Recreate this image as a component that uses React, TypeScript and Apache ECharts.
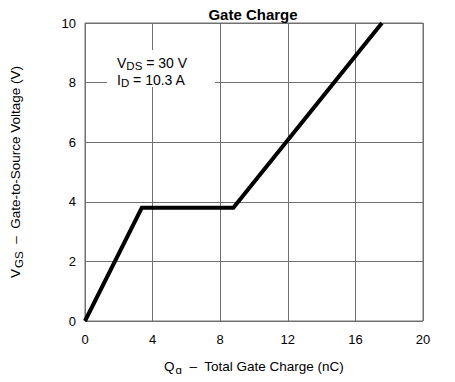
import React, { useEffect, useRef } from "react";
import * as echarts from "echarts";

const chargeNC = [0, 3.36, 8.78, 17.57];
const gateVolts = [0, 3.8, 3.8, 10];
const xTicks = [0, 4, 8, 12, 16, 20];
const yTicks = [0, 2, 4, 6, 8, 10];
const titleText = "Gate Charge";
const noteLines = ["{n|V}{s|DS}{n| = 30 V}", "{n|I}{s|D}{n| = 10.3 A}"];

const FONT = "Liberation Sans, Arial, sans-serif";

export default function App() {
  const ref = useRef<HTMLDivElement>(null);
  useEffect(() => {
    if (!ref.current) return;
    const chart = echarts.init(ref.current, undefined, { renderer: "svg" });
    const noteRich = {
      n: { fontSize: 14, fontFamily: FONT, color: "#000" },
      s: { fontSize: 11.5, fontFamily: FONT, color: "#000", padding: [7, 0, 0, 0] },
    };
    const nameRich = {
      n: { fontSize: 13.5, fontFamily: FONT, color: "#000" },
      s: { fontSize: 11.5, fontFamily: FONT, color: "#000", padding: [8, 0, 0, 1] },
    };
    chart.setOption({
      animation: false,
      backgroundColor: "#fff",
      grid: { left: 82, right: 32, top: 23, bottom: 61, show: true, borderColor: "#707070", borderWidth: 1 },
      xAxis: {
        type: "value",
        min: xTicks[0],
        max: xTicks[xTicks.length - 1],
        interval: xTicks[1] - xTicks[0],
        name: "{n|Q}{s|g}{n|  –  Total Gate Charge (nC)}",
        nameLocation: "middle",
        nameGap: 35,
        nameTextStyle: { rich: nameRich },
        axisLine: { show: false },
        axisTick: { show: false },
        axisLabel: { fontSize: 13, fontFamily: FONT, color: "#000", margin: 12 },
        splitLine: { show: true, lineStyle: { color: "#707070", width: 1 } },
      },
      yAxis: {
        type: "value",
        min: yTicks[0],
        max: yTicks[yTicks.length - 1],
        interval: yTicks[1] - yTicks[0],
        name: "{n|V}{s|GS}{n|  –  Gate-to-Source Voltage (V)}",
        nameLocation: "middle",
        nameRotate: 90,
        nameGap: 60,
        nameTextStyle: { rich: nameRich },
        axisLine: { show: false },
        axisTick: { show: false },
        axisLabel: { fontSize: 13, fontFamily: FONT, color: "#000", margin: 9 },
        splitLine: { show: true, lineStyle: { color: "#707070", width: 1 } },
      },
      graphic: [
        {
          type: "text",
          z: 6,
          x: 253,
          y: 14,
          style: {
            text: titleText,
            align: "center",
            verticalAlign: "middle",
            fontSize: 15,
            fontWeight: "bold",
            fontFamily: FONT,
            fill: "#000",
          },
        },
        {
          type: "rect",
          z: 5,
          shape: { x: 107, y: 50, width: 108, height: 37 },
          style: { fill: "#fff" },
        },
        {
          type: "text",
          z: 6,
          x: 117,
          y: 54,
          style: {
            text: noteLines.join("\n"),
            rich: noteRich,
            lineHeight: 17,
            fill: "#000",
          },
        },
      ],
      series: [
        {
          type: "line",
          data: chargeNC.map((q, i) => [q, gateVolts[i]]),
          showSymbol: false,
          symbol: "none",
          lineStyle: { color: "#000", width: 4, join: "miter" },
          z: 10,
        },
      ],
    });
    return () => chart.dispose();
  }, []);
  return <div ref={ref} style={{ width: 455, height: 382, margin: -8 }} />;
}
